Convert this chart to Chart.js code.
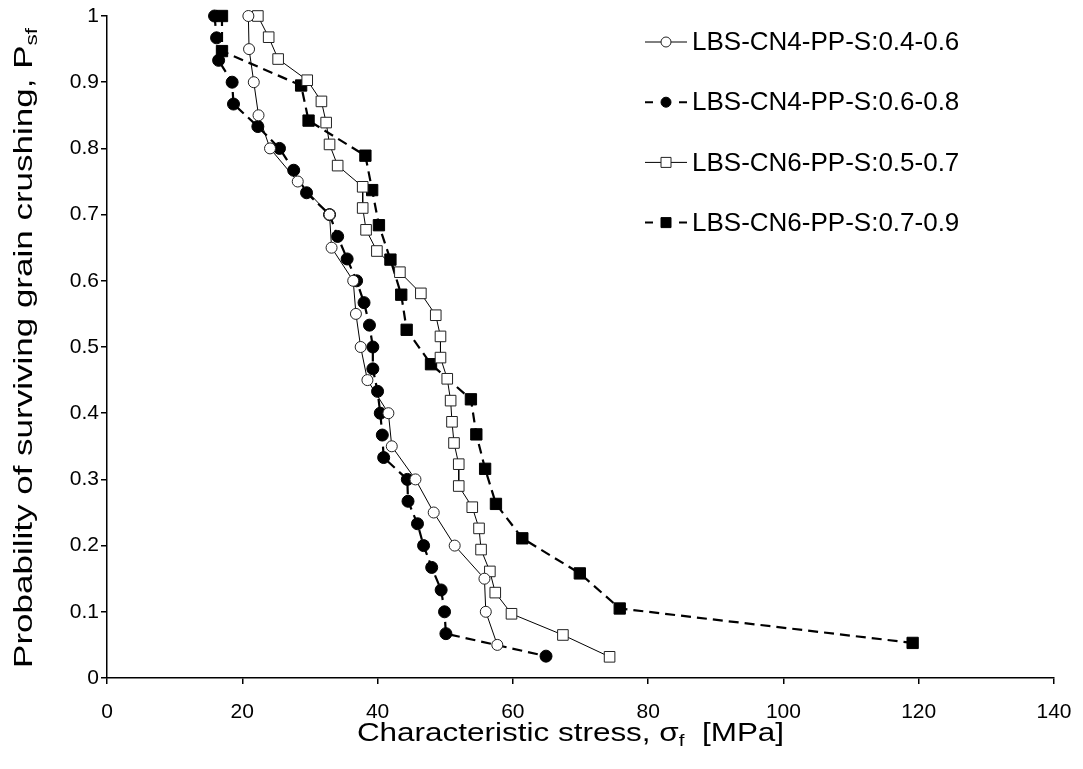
<!DOCTYPE html>
<html>
<head>
<meta charset="UTF-8" />
<title>Probability of surviving grain crushing</title>
<script src="https://cdn.jsdelivr.net/npm/chart.js"></script>
<style>
  body { margin: 0; background: #fff; }
  #wrap { width: 1083px; height: 769px; }
</style>
</head>
<body>
<div id="wrap"><canvas id="crushChart" width="1083" height="769"></canvas></div>
<script>
// Characteristic stress [MPa] and survival probability.
const cn4LowX = [20.9, 21.0, 21.7, 22.4, 24.1, 28.2, 32.9, 33.2, 36.4, 36.8,
                 37.5, 38.5, 41.6, 42.1, 45.6, 48.3, 51.4, 55.8, 56.0, 57.7];
const cn4LowP = [1, 0.95, 0.9, 0.85, 0.8, 0.75, 0.7, 0.65, 0.6, 0.55,
                 0.5, 0.45, 0.4, 0.35, 0.3, 0.25, 0.2, 0.15, 0.1, 0.05];

const cn4HighX = [15.9, 16.2, 16.5, 18.5, 18.7, 22.3, 25.5, 27.6, 29.5, 32.9,
                  34.1, 35.5, 36.9, 38.0, 38.8, 39.3, 39.3, 40.0, 40.4, 40.7,
                  40.9, 44.4, 44.5, 45.9, 46.8, 48.0, 49.4, 49.9, 50.1, 64.9];
const cn4HighP = [1, 0.967, 0.933, 0.9, 0.867, 0.833, 0.8, 0.767, 0.733, 0.7,
                  0.667, 0.633, 0.6, 0.567, 0.533, 0.5, 0.467, 0.433, 0.4, 0.367,
                  0.333, 0.3, 0.267, 0.233, 0.2, 0.167, 0.133, 0.1, 0.067, 0.033];

const cn6LowX = [22.3, 23.9, 25.3, 29.6, 31.7, 32.4, 32.9, 34.1, 37.8, 37.8,
                 38.3, 39.9, 43.3, 46.4, 48.6, 49.3, 49.3, 50.3, 50.8, 51.0,
                 51.3, 52.0, 52.0, 54.0, 55.0, 55.3, 56.6, 57.4, 59.8, 67.4, 74.3];
const cn6LowP = [1, 0.968, 0.935, 0.903, 0.871, 0.839, 0.806, 0.774, 0.742, 0.71,
                 0.677, 0.645, 0.613, 0.581, 0.548, 0.516, 0.484, 0.452, 0.419, 0.387,
                 0.355, 0.323, 0.29, 0.258, 0.226, 0.194, 0.161, 0.129, 0.097, 0.065, 0.032];

const cn6HighX = [17.0, 17.0, 28.7, 29.8, 38.2, 39.2, 40.2, 41.9, 43.5, 44.3,
                  47.9, 53.8, 54.6, 55.9, 57.5, 61.4, 69.9, 75.8, 119.1];
const cn6HighP = [1, 0.947, 0.895, 0.842, 0.789, 0.737, 0.684, 0.632, 0.579, 0.526,
                  0.474, 0.421, 0.368, 0.316, 0.263, 0.211, 0.158, 0.105, 0.053];

const seriesLabels = ["LBS-CN4-PP-S:0.4-0.6", "LBS-CN4-PP-S:0.6-0.8",
                      "LBS-CN6-PP-S:0.5-0.7", "LBS-CN6-PP-S:0.7-0.9"];
const xTicks = [0, 20, 40, 60, 80, 100, 120, 140];
const yTicks = [0, 0.1, 0.2, 0.3, 0.4, 0.5, 0.6, 0.7, 0.8, 0.9, 1];
const yTickLabels = ["0", "0.1", "0.2", "0.3", "0.4", "0.5", "0.6", "0.7", "0.8", "0.9", "1"];

const FONT = "'Liberation Sans', Arial, Helvetica, sans-serif";

function toPoints(xs, ps) {
  return xs.map((x, i) => ({ x: x, y: ps[i] }));
}

// Draws a string made of normal + subscript parts, centred on 0, with a horizontal stretch.
function drawParts(ctx, parts, size, subSize, subDrop, stretch) {
  let total = 0;
  parts.forEach(p => {
    ctx.font = (p.sub ? subSize : size) + "px " + FONT;
    p.w = ctx.measureText(p.t).width;
    total += p.w;
  });
  ctx.scale(stretch, 1);
  let x = -total / 2;
  parts.forEach(p => {
    ctx.font = (p.sub ? subSize : size) + "px " + FONT;
    ctx.fillText(p.t, x, p.sub ? subDrop : 0);
    x += p.w;
  });
}

// Axis titles with subscripts (Chart.js titles cannot do subscripts).
const axisTitles = {
  id: "axisTitles",
  afterDraw(chart) {
    const ctx = chart.ctx;
    const area = chart.chartArea;
    ctx.save();
    ctx.fillStyle = "#000";
    ctx.textBaseline = "alphabetic";
    ctx.textAlign = "left";

    ctx.save();
    ctx.translate((area.left + area.right) / 2 - 10, 741);
    drawParts(ctx, [
      { t: "Characteristic stress, \u03c3" },
      { t: "f", sub: true },
      { t: "  [MPa]" }
    ], 26, 17, 5, 1.21);
    ctx.restore();

    ctx.save();
    ctx.translate(32, (area.top + area.bottom) / 2 + 1);
    ctx.rotate(-Math.PI / 2);
    drawParts(ctx, [
      { t: "Probability of surviving grain crushing, P" },
      { t: "sf", sub: true },
    ], 25, 16, 5, 1.4);
    ctx.restore();

    ctx.restore();
  }
};

// Legend drawn inside the plot, top right, from the dataset styles.
const innerLegend = {
  id: "innerLegend",
  afterDraw(chart, args, opts) {
    const ctx = chart.ctx;
    ctx.save();
    chart.data.datasets.forEach((ds, i) => {
      const y = opts.top + i * opts.gap;
      const x0 = opts.left;
      const xm = x0 + 21;
      ctx.strokeStyle = "#000";
      ctx.lineWidth = ds.borderDash ? 2 : 1;
      ctx.setLineDash(ds.borderDash ? [8, 26] : []);
      ctx.beginPath();
      ctx.moveTo(x0, y);
      ctx.lineTo(x0 + 42, y);
      ctx.stroke();
      ctx.setLineDash([]);
      ctx.fillStyle = ds.pointBackgroundColor;
      ctx.strokeStyle = ds.pointBorderColor;
      ctx.lineWidth = 1;
      ctx.beginPath();
      if (ds.pointStyle === "rect") {
        ctx.rect(xm - 5, y - 5, 10, 10);
      } else {
        ctx.arc(xm, y, 5, 0, Math.PI * 2);
      }
      ctx.fill();
      ctx.stroke();
      ctx.fillStyle = "#000";
      ctx.font = "26px " + FONT;
      ctx.textBaseline = "middle";
      ctx.fillText(ds.label, x0 + 47, y + 1);
    });
    ctx.restore();
  }
};

const ctx = document.getElementById("crushChart").getContext("2d");
new Chart(ctx, {
  type: "scatter",
  data: {
    datasets: [
      {
        label: seriesLabels[0],
        data: toPoints(cn4LowX, cn4LowP),
        showLine: true,
        borderColor: "#000",
        borderWidth: 1,
        pointStyle: "circle",
        pointRadius: 5.5,
        pointBackgroundColor: "#fff",
        pointBorderColor: "#222",
        pointBorderWidth: 1
      },
      {
        label: seriesLabels[1],
        data: toPoints(cn4HighX, cn4HighP),
        showLine: true,
        borderColor: "#000",
        borderWidth: 2.2,
        borderDash: [10, 6],
        pointStyle: "circle",
        pointRadius: 6,
        pointBackgroundColor: "#000",
        pointBorderColor: "#000",
        pointBorderWidth: 1
      },
      {
        label: seriesLabels[2],
        data: toPoints(cn6LowX, cn6LowP),
        showLine: true,
        borderColor: "#000",
        borderWidth: 1,
        pointStyle: "rect",
        pointRadius: 7.5,
        pointBackgroundColor: "#fff",
        pointBorderColor: "#222",
        pointBorderWidth: 1
      },
      {
        label: seriesLabels[3],
        data: toPoints(cn6HighX, cn6HighP),
        showLine: true,
        borderColor: "#000",
        borderWidth: 2.2,
        borderDash: [10, 6],
        pointStyle: "rect",
        pointRadius: 8,
        pointBackgroundColor: "#000",
        pointBorderColor: "#000",
        pointBorderWidth: 1
      }
    ]
  },
  options: {
    responsive: false,
    animation: false,
    devicePixelRatio: 1,
    layout: { padding: { top: 16, right: 29, bottom: 0, left: 0 } },
    elements: { line: { tension: 0 } },
    datasets: { scatter: { clip: false } },
    plugins: {
      legend: { display: false },
      tooltip: { enabled: false },
      innerLegend: { left: 645, top: 42, gap: 60.2 }
    },
    scales: {
      x: {
        type: "linear",
        min: 0,
        max: 140,
        afterFit: s => { s.height = 91; s.paddingLeft = 0; s.paddingRight = 0; },
        afterBuildTicks: s => { s.ticks = xTicks.map(v => ({ value: v })); },
        ticks: { color: "#000", font: { family: FONT, size: 21 }, padding: 16, maxRotation: 0 },
        grid: { drawOnChartArea: false, drawTicks: true, tickLength: 6, color: "#000", lineWidth: 1.5 },
        border: { display: true, color: "#000", width: 1.5 }
      },
      y: {
        type: "linear",
        min: 0,
        max: 1,
        afterFit: s => { s.width = 107; s.paddingTop = 0; s.paddingBottom = 0; },
        afterBuildTicks: s => { s.ticks = yTicks.map(v => ({ value: v })); },
        ticks: {
          color: "#000",
          font: { family: FONT, size: 21 },
          padding: 2,
          callback: (v, i) => yTickLabels[i]
        },
        grid: { drawOnChartArea: false, drawTicks: true, tickLength: 6, color: "#000", lineWidth: 1.5 },
        border: { display: true, color: "#000", width: 1.5 }
      }
    }
  },
  plugins: [axisTitles, innerLegend]
});
</script>
</body>
</html>
